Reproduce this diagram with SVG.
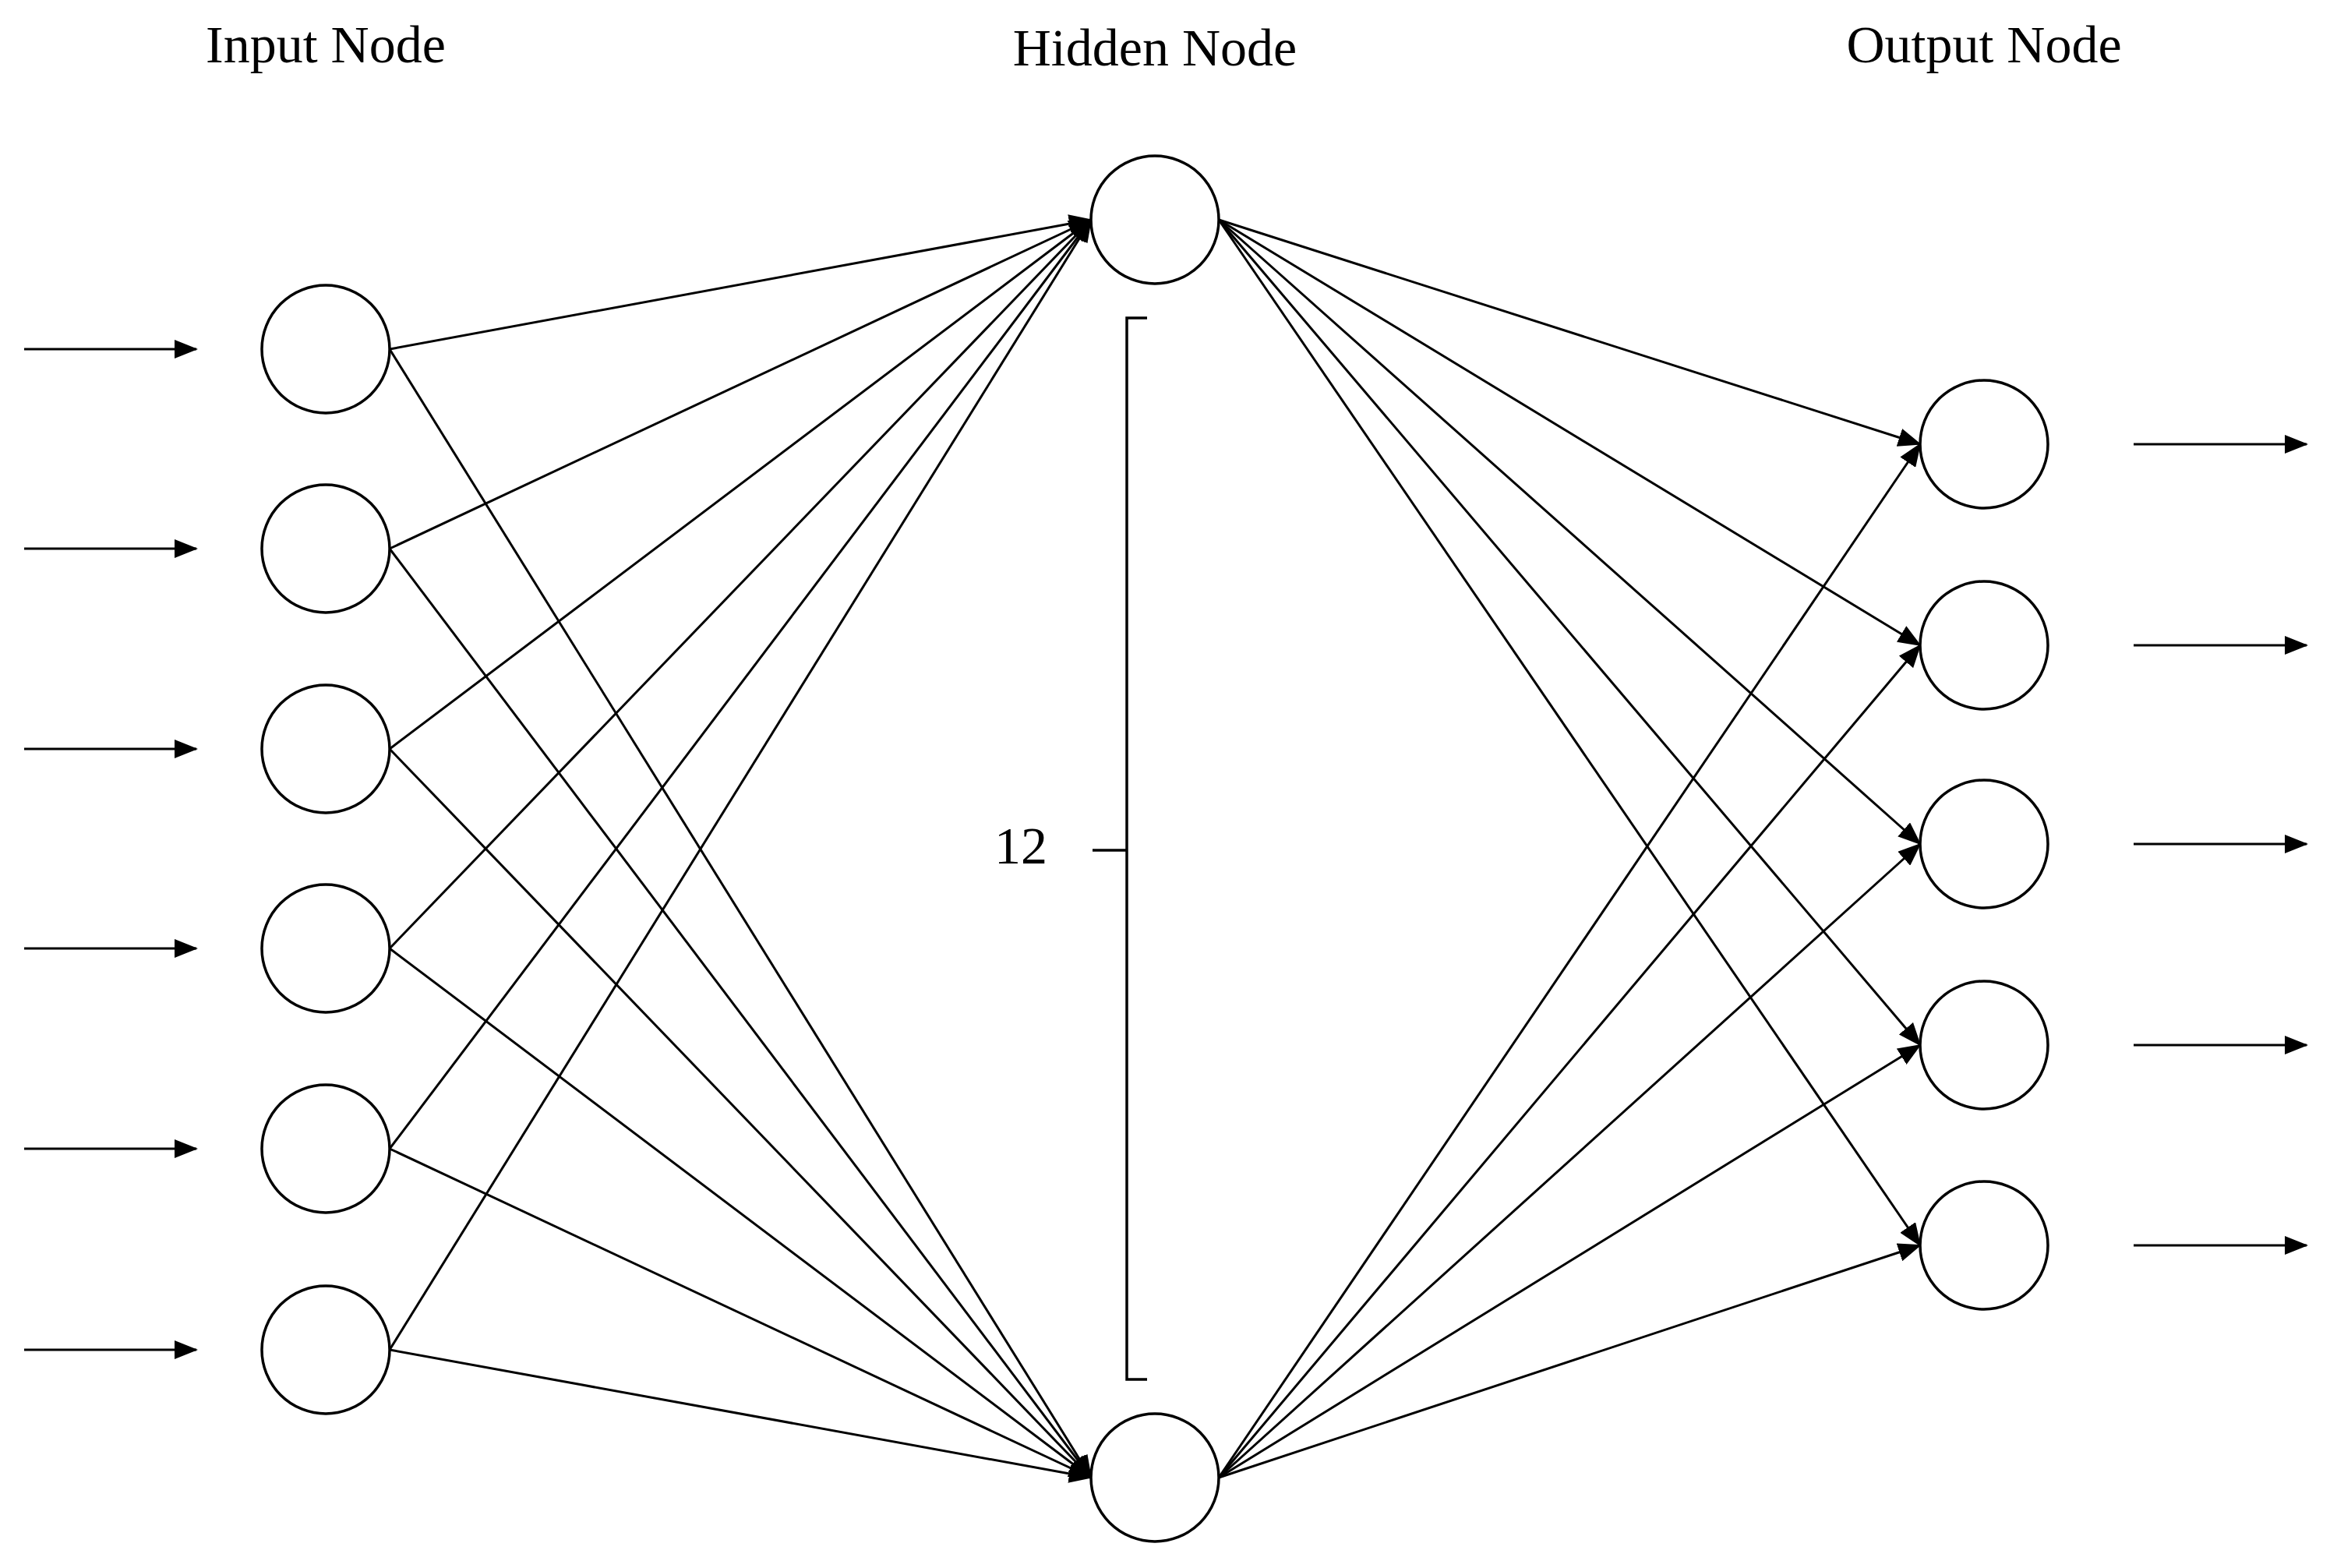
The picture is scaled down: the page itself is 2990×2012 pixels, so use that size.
<svg xmlns="http://www.w3.org/2000/svg" width="2990" height="2012" viewBox="0 0 2990 2012">
<style>
.n{fill:#fff;stroke:#000;stroke-width:3.5}
.e{stroke:#000;stroke-width:3;fill:none;marker-end:url(#a)}
.t{font-family:"Liberation Serif",serif;font-size:68px;fill:#000}
</style>
<defs><marker id="a" markerUnits="userSpaceOnUse" markerWidth="30" markerHeight="24" refX="28" refY="12" orient="auto" viewBox="0 0 30 24"><path d="M0,0 L30,12 L0,24 z" fill="#000"/></marker></defs>
<text class="t" x="418" y="80" text-anchor="middle">Input Node</text>
<text class="t" x="1482" y="84" text-anchor="middle">Hidden Node</text>
<text class="t" x="2546" y="80" text-anchor="middle">Output Node</text>
<text class="t" x="1310" y="1108" text-anchor="middle">12</text>
<g id="bracket" stroke="#000" stroke-width="3.5" fill="none"><path d="M1472,408 H1446 V1770 H1472 M1402,1091 H1446"/></g>
<g id="connectors">
<line class="e" x1="31" y1="448" x2="252" y2="448"/><line class="e" x1="31" y1="704" x2="252" y2="704"/><line class="e" x1="31" y1="961" x2="252" y2="961"/><line class="e" x1="31" y1="1217" x2="252" y2="1217"/><line class="e" x1="31" y1="1474" x2="252" y2="1474"/><line class="e" x1="31" y1="1732" x2="252" y2="1732"/>
<line class="e" x1="2738" y1="570" x2="2960" y2="570"/><line class="e" x1="2738" y1="828" x2="2960" y2="828"/><line class="e" x1="2738" y1="1083" x2="2960" y2="1083"/><line class="e" x1="2738" y1="1341" x2="2960" y2="1341"/><line class="e" x1="2738" y1="1598" x2="2960" y2="1598"/>
<line class="e" x1="500" y1="448" x2="1400" y2="282"/><line class="e" x1="500" y1="704" x2="1400" y2="282"/><line class="e" x1="500" y1="961" x2="1400" y2="282"/><line class="e" x1="500" y1="1217" x2="1400" y2="282"/><line class="e" x1="500" y1="1474" x2="1400" y2="282"/><line class="e" x1="500" y1="1732" x2="1400" y2="282"/>
<line class="e" x1="500" y1="448" x2="1400" y2="1896"/><line class="e" x1="500" y1="704" x2="1400" y2="1896"/><line class="e" x1="500" y1="961" x2="1400" y2="1896"/><line class="e" x1="500" y1="1217" x2="1400" y2="1896"/><line class="e" x1="500" y1="1474" x2="1400" y2="1896"/><line class="e" x1="500" y1="1732" x2="1400" y2="1896"/>
<line class="e" x1="1564" y1="282" x2="2464" y2="570"/><line class="e" x1="1564" y1="282" x2="2464" y2="828"/><line class="e" x1="1564" y1="282" x2="2464" y2="1083"/><line class="e" x1="1564" y1="282" x2="2464" y2="1341"/><line class="e" x1="1564" y1="282" x2="2464" y2="1598"/>
<line class="e" x1="1564" y1="1896" x2="2464" y2="570"/><line class="e" x1="1564" y1="1896" x2="2464" y2="828"/><line class="e" x1="1564" y1="1896" x2="2464" y2="1083"/><line class="e" x1="1564" y1="1896" x2="2464" y2="1341"/><line class="e" x1="1564" y1="1896" x2="2464" y2="1598"/>
</g>
<g id="in1"><circle class="n" cx="418" cy="448" r="82"/></g>
<g id="in2"><circle class="n" cx="418" cy="704" r="82"/></g>
<g id="in3"><circle class="n" cx="418" cy="961" r="82"/></g>
<g id="in4"><circle class="n" cx="418" cy="1217" r="82"/></g>
<g id="in5"><circle class="n" cx="418" cy="1474" r="82"/></g>
<g id="in6"><circle class="n" cx="418" cy="1732" r="82"/></g>
<g id="h1"><circle class="n" cx="1482" cy="282" r="82"/></g>
<g id="h2"><circle class="n" cx="1482" cy="1896" r="82"/></g>
<g id="o1"><circle class="n" cx="2546" cy="570" r="82"/></g>
<g id="o2"><circle class="n" cx="2546" cy="828" r="82"/></g>
<g id="o3"><circle class="n" cx="2546" cy="1083" r="82"/></g>
<g id="o4"><circle class="n" cx="2546" cy="1341" r="82"/></g>
<g id="o5"><circle class="n" cx="2546" cy="1598" r="82"/></g>
</svg>
